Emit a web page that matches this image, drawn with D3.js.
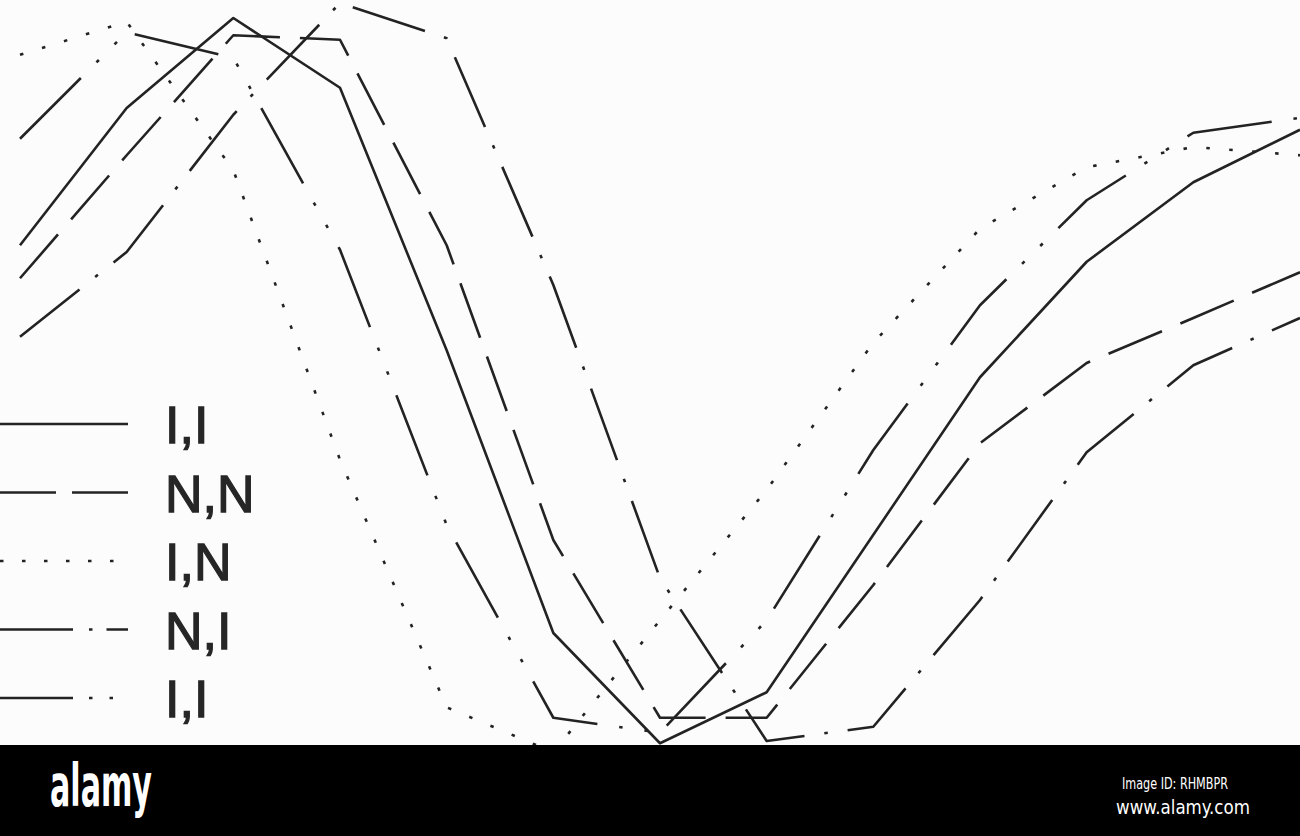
<!DOCTYPE html>
<html>
<head>
<meta charset="utf-8">
<script src="https://cdn.jsdelivr.net/npm/d3@7"></script>
<style>
    html, body { margin: 0; padding: 0; background: #fcfcfc; }
    #chart { width: 1300px; height: 836px; }
</style>
</head>
<body>
<div id="chart"></div>
<script>
// time steps along the x axis
let steps = [1, 2, 3, 4, 5, 6, 7, 8, 9, 10, 11, 12, 13];

// legend labels, in legend order
let labels = ["I,I", "N,N", "I,N", "N,I", "I,I"];

// response values (arbitrary units 0-100)
let solidII      = [67.3, 85.6, 97.6, 88.3, 53.3, 15.6, 0.9, 7.7, 28.7, 49.7, 65.1, 75.7, 82.7];
let dashedNN     = [62.9, 79.3, 95.3, 94.7, 67.3, 28.0, 4.3, 4.3, 22.0, 40.9, 51.6, 57.6, 63.7];
let dottedIN     = [92.7, 97.1, 77.3, 38.7, 5.7, -0.3, 17.3, 34.7, 54.3, 69.5, 77.7, 80.4, 79.3];
let dashDotNI    = [55.1, 66.4, 84.7, 99.6, 94.9, 62.0, 22.9, 1.2, 3.1, 20.0, 39.7, 51.3, 57.6];
let dashDotDotII = [81.5, 95.7, 92.3, 66.7, 30.0, 4.3, 2.3, 17.3, 40.0, 59.3, 73.3, 82.3, 84.3];

class ResponseVis {
    constructor(parentElement) {
        this.parentElement = parentElement;
        this.series = [solidII, dashedNN, dottedIN, dashDotNI, dashDotDotII];
        // plot dash patterns and legend sample patterns
        this.dashes = [null, "58 20", "3.5 19.5", "76 20 3.5 20", "86 22 3.5 22 3.5 22"];
        this.legendDashes = [null, "56 16", "3.5 18.5", "73 16 3.5 14 40", "73 16 3.5 17 3.5 40"];
        this.initVis();
    }

    initVis() {
        let vis = this;

        vis.width = 1300;
        vis.height = 836;
        vis.plotBottom = 745;
        vis.ink = "#232323";

        vis.svg = d3.select("#" + vis.parentElement).append("svg")
            .attr("width", vis.width)
            .attr("height", vis.height);

        vis.svg.append("rect")
            .attr("width", vis.width)
            .attr("height", vis.height)
            .attr("fill", "#fcfcfc");

        // scales (no visible axes in the original)
        vis.x = d3.scaleLinear().domain([1, 13]).range([20, 1300]);
        vis.y = d3.scaleLinear().domain([0, 100]).range([750, 0]);

        vis.line = d3.line()
            .x((d, i) => vis.x(steps[i]))
            .y(d => vis.y(d));

        vis.svg.append("clipPath")
            .attr("id", "plot-clip")
            .append("rect")
            .attr("width", vis.width)
            .attr("height", vis.plotBottom);

        vis.plot = vis.svg.append("g").attr("clip-path", "url(#plot-clip)");

        vis.plot.selectAll(".curve")
            .data(vis.series)
            .enter().append("path")
            .attr("class", "curve")
            .attr("d", d => vis.line(d))
            .attr("fill", "none")
            .attr("stroke", vis.ink)
            .attr("stroke-width", 2.6)
            .attr("stroke-linejoin", "round")
            .attr("stroke-dasharray", (d, i) => vis.dashes[i]);

        vis.drawLegend();
        vis.drawBanner();
    }

    drawLegend() {
        let vis = this;

        vis.legend = vis.svg.append("g").attr("class", "legend");

        let rows = vis.legend.selectAll(".legend-row")
            .data(labels)
            .enter().append("g")
            .attr("class", "legend-row")
            .attr("transform", (d, i) => `translate(0, ${443 + i * 68.5})`);

        rows.append("line")
            .attr("x1", 0)
            .attr("x2", 128)
            .attr("y1", -19)
            .attr("y2", -19)
            .attr("stroke", vis.ink)
            .attr("stroke-width", 2.6)
            .attr("stroke-dasharray", (d, i) => vis.legendDashes[i]);

        // regular face with a thin outline, to get the scan's medium weight
        rows.append("text")
            .attr("x", 165)
            .attr("y", 0)
            .attr("fill", "#262626")
            .attr("stroke", "#262626")
            .attr("stroke-width", 1.3)
            .style("font-family", "'Liberation Sans', Arial, sans-serif")
            .style("font-size", "52px")
            .text(d => d);
    }

    drawBanner() {
        let vis = this;

        vis.svg.append("rect")
            .attr("y", vis.plotBottom)
            .attr("width", vis.width)
            .attr("height", vis.height - vis.plotBottom)
            .attr("fill", "#000");

        vis.svg.append("text")
            .attr("x", 50)
            .attr("y", 806)
            .attr("textLength", 102)
            .attr("lengthAdjust", "spacingAndGlyphs")
            .attr("fill", "#fff")
            .style("font-family", "'Liberation Sans Narrow', 'DejaVu Sans Condensed', sans-serif")
            .style("font-weight", "bold")
            .style("font-size", "58px")
            .text("alamy");

        vis.svg.append("text")
            .attr("x", 1122)
            .attr("y", 789)
            .attr("textLength", 106)
            .attr("lengthAdjust", "spacingAndGlyphs")
            .attr("fill", "#fff")
            .style("font-family", "'Liberation Sans Narrow', 'DejaVu Sans Condensed', sans-serif")
            .style("font-size", "16px")
            .text("Image ID: RHMBPR");

        vis.svg.append("text")
            .attr("x", 1116)
            .attr("y", 814)
            .attr("textLength", 134)
            .attr("lengthAdjust", "spacingAndGlyphs")
            .attr("fill", "#fff")
            .style("font-family", "'Liberation Sans Narrow', 'DejaVu Sans Condensed', sans-serif")
            .style("font-size", "19px")
            .text("www.alamy.com");
    }
}

new ResponseVis("chart");
</script>
</body>
</html>
